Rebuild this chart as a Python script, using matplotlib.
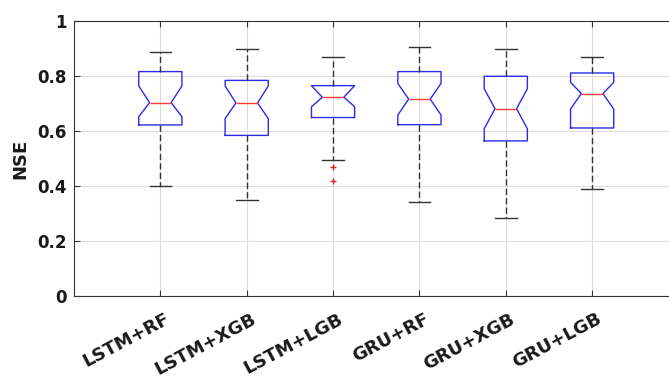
import matplotlib
matplotlib.use("Agg")
import matplotlib.pyplot as plt
import matplotlib.transforms as mtransforms

categories = ["LSTM+RF", "LSTM+XGB", "LSTM+LGB", "GRU+RF", "GRU+XGB", "GRU+LGB"]
whislo = [0.401, 0.350, 0.495, 0.342, 0.285, 0.390]
q1     = [0.622, 0.584, 0.649, 0.623, 0.564, 0.611]
cilo   = [0.652, 0.645, 0.688, 0.658, 0.608, 0.680]
med    = [0.703, 0.702, 0.723, 0.716, 0.681, 0.736]
cihi   = [0.764, 0.764, 0.765, 0.773, 0.754, 0.777]
q3     = [0.816, 0.784, 0.765, 0.816, 0.799, 0.811]
whishi = [0.888, 0.900, 0.868, 0.904, 0.898, 0.868]
fliers = [[], [], [0.469, 0.418], [], [], []]
yticks = [0, 0.2, 0.4, 0.6, 0.8, 1]
yticklabels = ["0", "0.2", "0.4", "0.6", "0.8", "1"]

FONT = "DejaVu Sans"
W, H = 669, 379
fig = plt.figure(figsize=(W / 100, H / 100), dpi=100)
x0, x1 = 74, 678.5
y0, y1 = 296, 21
ax = fig.add_axes([x0 / W, 1 - y0 / H, (x1 - x0) / W, (y0 - y1) / H])

stats = []
for i in range(len(categories)):
    stats.append(dict(med=med[i], q1=q1[i], q3=q3[i], whislo=whislo[i], whishi=whishi[i],
                      cilo=cilo[i], cihi=cihi[i], fliers=fliers[i], label=categories[i]))

positions = list(range(1, len(categories) + 1))
ax.bxp(stats, positions=positions, widths=0.5, shownotches=True, showfliers=True,
       boxprops=dict(color="#2b2be6", linewidth=1.0),
       medianprops=dict(color="#ff3b3b", linewidth=1.0),
       whiskerprops=dict(color="#333333", linewidth=1.0, linestyle=(0, (4.5, 2.3))),
       capprops=dict(color="#333333", linewidth=1.0),
       flierprops=dict(marker="+", markeredgecolor="#e02020", markersize=5, linestyle="none"))

ax.set_xlim(0, 7)
ax.set_ylim(0, 1)
ax.set_yticks(yticks)
ax.set_yticklabels(yticklabels, fontsize=12, fontweight="bold", family=FONT)
ax.set_xticks(positions)
ax.set_xticklabels([])
offset = mtransforms.ScaledTranslation(4 / 100, -14 / 100, fig.dpi_scale_trans)
for p, lab in zip(positions, categories):
    ax.text(p, 0, lab, transform=ax.get_xaxis_transform() + offset, rotation=28,
            rotation_mode="anchor", ha="right", va="top", fontsize=13, fontweight="bold",
            family=FONT, color="#1a1a1a")

ax.grid(True, color="#dddddd", linewidth=0.8)
ax.set_axisbelow(True)
ax.tick_params(axis="both", direction="in", length=4, width=0.8, color="#333333",
               top=True, right=True, pad=5, labelcolor="#1a1a1a")
for s in ax.spines.values():
    s.set_color("#333333")
    s.set_linewidth(0.8)

ax.set_ylabel("NSE", fontsize=13, fontweight="bold", family=FONT, color="#1a1a1a",
              labelpad=6)

fig.savefig("out.png", dpi=100)
